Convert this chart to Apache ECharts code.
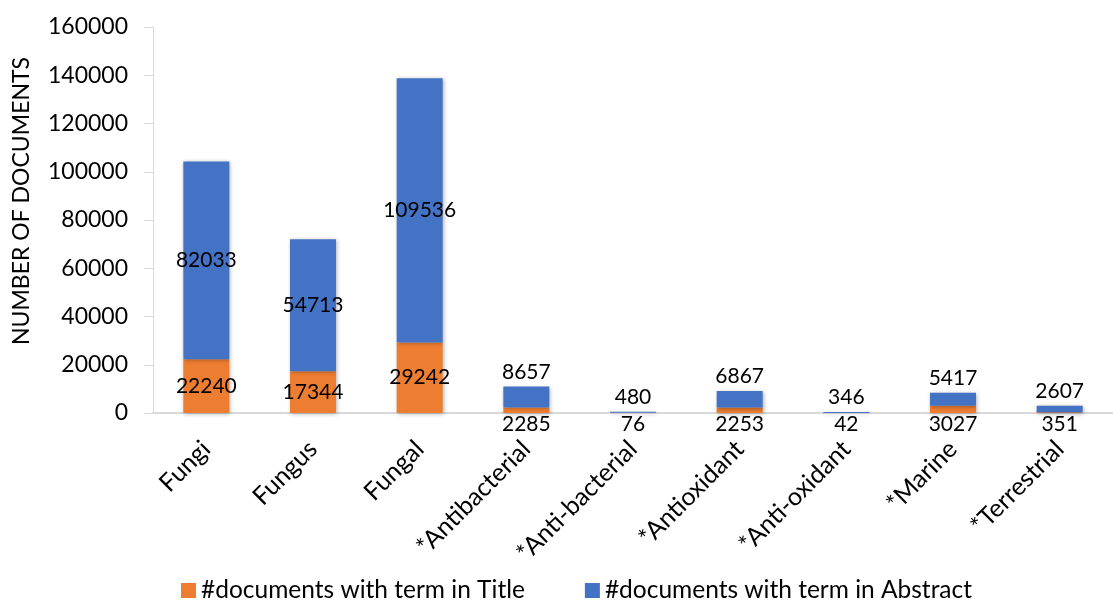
<!DOCTYPE html>
<html>
<head>
<meta charset="utf-8">
<title>Number of documents by term</title>
<script src="https://cdn.jsdelivr.net/npm/echarts@6/dist/echarts.min.js"></script>
<style>
  html, body { margin: 0; padding: 0; background: #fff; }
  #chart { width: 1113px; height: 601px; }
</style>
</head>
<body>
<div id="chart"></div>
<script>
// Search terms on the category axis
const categories = ['Fungi', 'Fungus', 'Fungal', '*Antibacterial', '*Anti-bacterial',
                    '*Antioxidant', '*Anti-oxidant', '*Marine', '*Terrestrial'];
// Documents with the term in the title
const titleCounts = [22240, 17344, 29242, 2285, 76, 2253, 42, 3027, 351];
// Documents with the term in the abstract
const abstractCounts = [82033, 54713, 109536, 8657, 480, 6867, 346, 5417, 2607];
// Value axis range
const yMin = 0, yMax = 160000, yStep = 20000;

const FONT = 'Lato, "Open Sans", sans-serif';
const TEXT = '#000000';
const ORANGE = '#ED7D31';
const BLUE = '#4472C4';
const BIG = 15000; // segments taller than this carry their label inside

const shadow = {
  shadowBlur: 4,
  shadowColor: 'rgba(0,0,0,0.30)',
  shadowOffsetX: 1,
  shadowOffsetY: 1
};

function items(values, outsidePos) {
  return values.map(v => ({
    value: v,
    label: {
      position: v >= BIG ? 'inside' : outsidePos,
      distance: outsidePos === 'bottom' ? 1 : 4
    }
  }));
}

const chart = echarts.init(document.getElementById('chart'), null, { renderer: 'canvas' });

chart.setOption({
  backgroundColor: '#ffffff',
  animation: false,
  textStyle: { fontFamily: FONT, color: TEXT },
  grid: { left: 153, top: 27, bottom: 188, width: 974, containLabel: false },
  legend: {
    left: 176,
    top: 573,
    icon: 'rect',
    itemWidth: 15,
    itemHeight: 15,
    itemGap: 60,
    textStyle: { fontFamily: FONT, fontSize: 24.5, color: TEXT },
    data: ['#documents with term in Title', '#documents with term in Abstract']
  },
  xAxis: {
    type: 'category',
    data: categories,
    axisLine: { show: true, lineStyle: { color: '#d9d9d9', width: 2 } },
    axisTick: { show: false },
    axisLabel: {
      rotate: 45,
      margin: 32,
      interval: 0,
      fontFamily: FONT,
      fontSize: 25,
      color: TEXT
    }
  },
  yAxis: {
    type: 'value',
    min: yMin,
    max: yMax,
    interval: yStep,
    axisLine: { show: true, lineStyle: { color: '#d9d9d9', width: 1 } },
    axisTick: { show: true, inside: false, length: 9, lineStyle: { color: '#d9d9d9' } },
    splitLine: { show: false },
    axisLabel: {
      margin: 25,
      fontFamily: FONT,
      fontSize: 23,
      color: TEXT,
      formatter: v => String(v)
    }
  },
  graphic: [{
    type: 'text',
    x: 22,
    y: 201,
    rotation: Math.PI / 2,
    style: {
      text: 'NUMBER OF DOCUMENTS',
      font: '23px ' + FONT,
      fill: TEXT,
      align: 'center',
      verticalAlign: 'middle'
    }
  }],
  series: [
    {
      name: '#documents with term in Title',
      type: 'bar',
      stack: 'docs',
      barWidth: 46,
      itemStyle: Object.assign({ color: ORANGE }, shadow),
      label: { show: true, fontFamily: FONT, fontSize: 21, color: TEXT },
      data: items(titleCounts, 'bottom')
    },
    {
      name: '#documents with term in Abstract',
      type: 'bar',
      stack: 'docs',
      barWidth: 46,
      itemStyle: Object.assign({ color: BLUE }, shadow),
      label: { show: true, fontFamily: FONT, fontSize: 21, color: TEXT },
      data: items(abstractCounts, 'top')
    }
  ]
});
</script>
</body>
</html>
